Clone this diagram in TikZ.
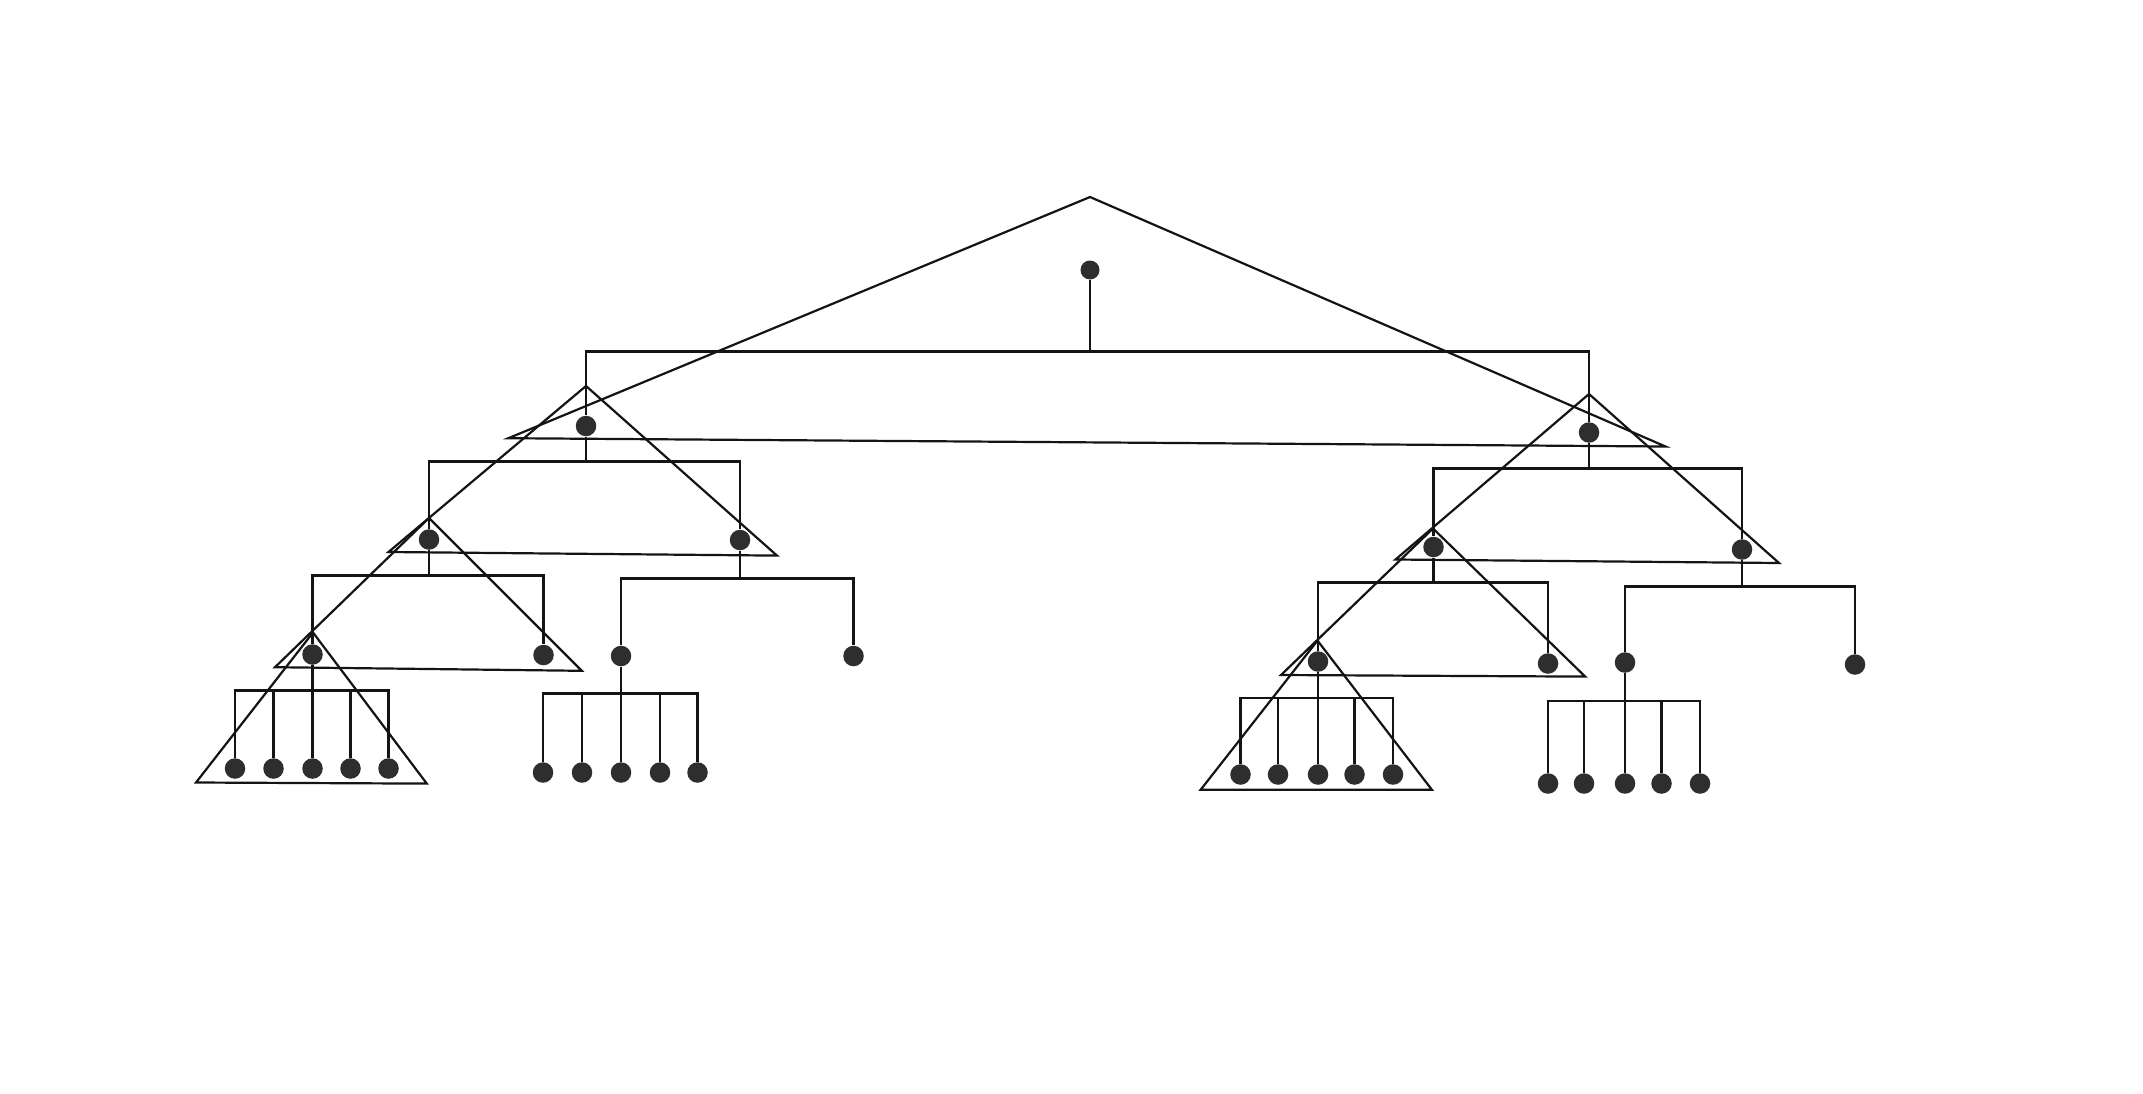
\documentclass[tikz,border=0pt]{standalone}
\begin{document}
\begin{tikzpicture}[x=0.1mm,y=-0.1mm,
  dot/.style={circle,fill=black!82,draw=none,inner sep=0pt,minimum size=2.05mm},
  edge/.style={draw=black!92,line width=0.22mm},
  tri/.style={draw=black!92,line width=0.22mm,line join=miter}]
\useasboundingbox[fill=white] (0,0) rectangle (2143,1093);

% ---------- enclosing triangles ----------
\draw[tri] (1090,197) -- (508.4,438.2) -- (1665.5,446.5) -- cycle;
\draw[tri] (586,386) -- (388.5,552) -- (777,555.6) -- cycle;
\draw[tri] (1589,394) -- (1395.5,559.5) -- (1779,563) -- cycle;
\draw[tri] (429,518) -- (275,667.2) -- (581.8,670.8) -- cycle;
\draw[tri] (1433,528.5) -- (1281,675) -- (1585.2,676.6) -- cycle;
\draw[tri] (313,632.5) -- (196,782.5) -- (426.8,783.6) -- cycle;
\draw[tri] (1317.5,640.6) -- (1200.6,789.8) -- (1431.9,789.8) -- cycle;

% ---------- nodes ----------
\node[dot,minimum size=1.9mm] (root) at (1090,270) {};
\node[dot] (L1) at (586,426) {};
\node[dot] (R1) at (1589,432.5) {};
\node[dot] (L2a) at (429,539.5) {};
\node[dot] (L2b) at (740,540) {};
\node[dot] (R2a) at (1433.5,547) {};
\node[dot] (R2b) at (1742,549.5) {};
\node[dot] (L3a) at (312.5,654.5) {};
\node[dot] (L3b) at (543.5,655) {};
\node[dot] (L3c) at (621,656) {};
\node[dot] (L3d) at (853.5,656) {};
\node[dot] (R3a) at (1318,661.5) {};
\node[dot] (R3b) at (1548,663.5) {};
\node[dot] (R3c) at (1625,662.5) {};
\node[dot] (R3d) at (1855,664.5) {};
\foreach \x [count=\i] in {235,273.5,312.5,350.5,388.5}
  \node[dot] (la\i) at (\x,768.5) {};
\foreach \x [count=\i] in {543,582,621,660,697.5}
  \node[dot] (lc\i) at (\x,772.5) {};
\foreach \x [count=\i] in {1240.5,1278,1318,1354.5,1393}
  \node[dot] (ra\i) at (\x,774.5) {};
\foreach \x [count=\i] in {1548,1584,1625,1661.5,1700}
  \node[dot] (rc\i) at (\x,783.5) {};

% ---------- bar junctions ----------
\coordinate (b0) at (1090,351.5);
\coordinate (bL1) at (586,461.5);
\coordinate (bR1) at (1589,468.5);
\coordinate (bL2a) at (429,575.5);
\coordinate (bL2b) at (740,578.5);
\coordinate (bR2a) at (1433.5,582.5);
\coordinate (bR2b) at (1742,586.5);
\coordinate (bL3a) at (312.5,690.5);
\coordinate (bL3c) at (621,693.5);
\coordinate (bR3a) at (1318,697.8);
\coordinate (bR3c) at (1625,700.7);

% ---------- connectors ----------
\draw[edge] (root) -- (b0) -| (L1);
\draw[edge] (b0) -| (R1);
\draw[edge] (L1) -- (bL1) -| (L2a);
\draw[edge] (bL1) -| (L2b);
\draw[edge] (R1) -- (bR1) -| (R2a);
\draw[edge] (bR1) -| (R2b);
\draw[edge] (L2a) -- (bL2a) -| (L3a);
\draw[edge] (bL2a) -| (L3b);
\draw[edge] (L2b) -- (bL2b) -| (L3c);
\draw[edge] (bL2b) -| (L3d);
\draw[edge] (R2a) -- (bR2a) -| (R3a);
\draw[edge] (bR2a) -| (R3b);
\draw[edge] (R2b) -- (bR2b) -| (R3c);
\draw[edge] (bR2b) -| (R3d);
\draw[edge] (L3a) -- (bL3a);
\draw[edge] (L3c) -- (bL3c);
\draw[edge] (R3a) -- (bR3a);
\draw[edge] (R3c) -- (bR3c);
\foreach \i in {1,...,5} {
  \draw[edge] (bL3a) -| (la\i);
  \draw[edge] (bL3c) -| (lc\i);
  \draw[edge] (bR3a) -| (ra\i);
  \draw[edge] (bR3c) -| (rc\i);
}
\end{tikzpicture}
\end{document}
